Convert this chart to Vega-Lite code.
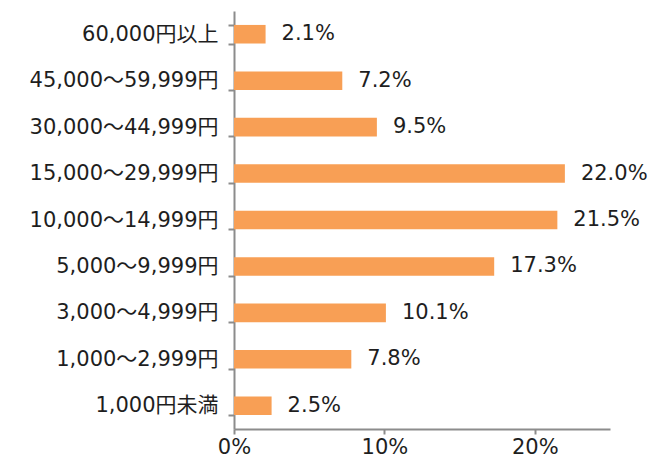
{
  "$schema": "https://vega.github.io/schema/vega-lite/v6.json",
  "width": 376,
  "height": 418,
  "autosize": "none",
  "padding": {"left": 234, "top": 11, "right": 46, "bottom": 32},
  "background": "white",
  "config": {"view": {"stroke": null}, "font": "DejaVu Sans, Noto Sans CJK JP"},
  "data": {"values": [
    {"cat": "60,000円以上", "v": 2.1},
    {"cat": "45,000〜59,999円", "v": 7.2},
    {"cat": "30,000〜44,999円", "v": 9.5},
    {"cat": "15,000〜29,999円", "v": 22.0},
    {"cat": "10,000〜14,999円", "v": 21.5},
    {"cat": "5,000〜9,999円", "v": 17.3},
    {"cat": "3,000〜4,999円", "v": 10.1},
    {"cat": "1,000〜2,999円", "v": 7.8},
    {"cat": "1,000円未満", "v": 2.5}
  ]},
  "encoding": {
    "y": {"field": "cat", "type": "nominal", "sort": null,
      "scale": {"paddingInner": 0.6, "paddingOuter": 0.3},
      "axis": {"title": null, "domainColor": "#8c8c8c", "domainWidth": 2, "tickColor": "#8c8c8c", "tickWidth": 2, "tickSize": 6, "tickBand": "extent", "labelFontSize": 21, "labelColor": "#1e1e1e", "labelPadding": 10, "labelFont": "DejaVu Sans, Noto Sans CJK JP", "labelLimit": 240}},
    "x": {"field": "v", "type": "quantitative",
      "scale": {"domain": [0, 25], "nice": false},
      "axis": {"title": null, "values": [0, 10, 20], "labelExpr": "datum.value + '%'", "labelFlush": false, "grid": false, "domainColor": "#8c8c8c", "domainWidth": 2, "tickColor": "#8c8c8c", "tickWidth": 2, "tickSize": 5, "labelFontSize": 21, "labelColor": "#1e1e1e", "labelPadding": 2, "labelFont": "DejaVu Sans, Noto Sans CJK JP"}}
  },
  "layer": [
    {"mark": {"type": "bar", "color": "#F89F55"}},
    {"mark": {"type": "text", "align": "left", "dx": 16, "fontSize": 21, "color": "#1e1e1e", "font": "DejaVu Sans, Noto Sans CJK JP", "text": {"expr": "format(datum.v, '.1f') + '%'"}}}
  ]
}
